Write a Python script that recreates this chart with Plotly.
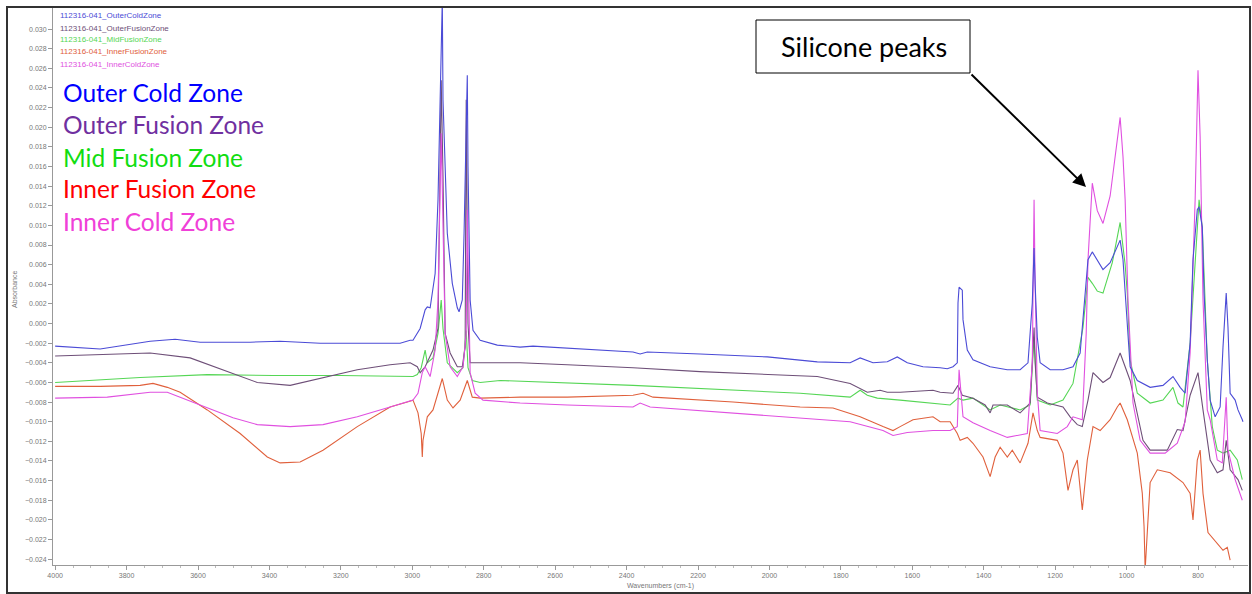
import plotly.graph_objects as go

# ---------------- data (wavenumber cm-1, absorbance) ----------------
outer_cold_wn = [4000, 3874, 3734, 3664, 3594, 3454, 3370, 3258, 3034, 3006, 2998, 2978, 2964, 2958, 2950,
                 2936, 2928, 2919, 2916, 2914, 2902, 2888, 2874, 2869, 2860, 2855, 2849, 2846, 2844, 2838,
                 2830, 2810, 2762, 2698, 2662, 2566, 2382, 2362, 2342, 2194, 2006, 1866, 1774, 1746, 1710,
                 1670, 1642, 1614, 1570, 1522, 1502, 1486, 1474, 1472, 1469, 1460, 1458, 1446, 1430, 1382,
                 1334, 1298, 1276, 1264, 1259, 1256, 1250, 1242, 1214, 1178, 1150, 1130, 1122, 1116, 1108,
                 1096, 1082, 1066, 1046, 1026, 1018, 1010, 998, 990, 970, 934, 898, 870, 850, 836, 822, 814,
                 802, 797, 788, 783, 774, 766, 752, 738, 730, 721, 716, 710, 696, 688, 676, 674]
outer_cold_ab = [-0.0023, -0.0026, -0.0018, -0.0016, -0.0019, -0.0019, -0.0018, -0.0020, -0.0020, -0.0017,
                 -0.0017, -0.0005, 0.0014, 0.0017, 0.0016, 0.0051, 0.0126, 0.0260, 0.0330, 0.0228, 0.0092,
                 0.0041, 0.0016, 0.0012, 0.0024, 0.0092, 0.0228, 0.0253, 0.0160, 0.0024, -0.0007, -0.0017,
                 -0.0022, -0.0024, -0.0023, -0.0025, -0.0029, -0.0031, -0.0029, -0.0031, -0.0034, -0.0039,
                 -0.0040, -0.0035, -0.0040, -0.0039, -0.0034, -0.0040, -0.0044, -0.0045, -0.0046, -0.0044,
                 -0.0040, 0.0021, 0.0037, 0.0034, 0.0004, -0.0027, -0.0037, -0.0044, -0.0047, -0.0047,
                 -0.0040, 0.0021, 0.0077, 0.0040, -0.0014, -0.0040, -0.0047, -0.0047, -0.0044, -0.0030,
                 0.0004, 0.0031, 0.0065, 0.0073, 0.0065, 0.0055, 0.0062, 0.0078, 0.0085, 0.0065, -0.0004,
                 -0.0044, -0.0058, -0.0065, -0.0063, -0.0054, -0.0065, -0.0071, -0.0020, 0.0065, 0.0116,
                 0.0119, 0.0098, 0.0031, -0.0037, -0.0078, -0.0095, -0.0085, -0.0024, 0.0031, -0.0004,
                 -0.0071, -0.0078, -0.0088, -0.0098, -0.0100]

outer_fusion_wn = [4000, 3734, 3622, 3530, 3434, 3342, 3250, 3154, 3062, 3006, 2986, 2978, 2964, 2942, 2928,
                   2919, 2914, 2908, 2894, 2874, 2860, 2852, 2849, 2844, 2838, 2818, 2698, 2566, 2382, 2194,
                   2006, 1866, 1774, 1746, 1726, 1690, 1670, 1634, 1542, 1522, 1486, 1472, 1460, 1430, 1396,
                   1382, 1374, 1334, 1312, 1298, 1270, 1264, 1259, 1256, 1250, 1222, 1178, 1158, 1138, 1124,
                   1108, 1094, 1066, 1046, 1018, 990, 954, 934, 886, 858, 842, 822, 800, 786, 766, 746, 730,
                   721, 710, 688, 676]
outer_fusion_ab = [-0.0033, -0.0030, -0.0035, -0.0047, -0.0060, -0.0063, -0.0055, -0.0047, -0.0042, -0.0040,
                   -0.0044, -0.0050, -0.0044, -0.0027, -0.0005, 0.0248, 0.0150, -0.0010, -0.0030, -0.0044,
                   -0.0044, -0.0024, 0.0228, 0.0000, -0.0040, -0.0040, -0.0040, -0.0042, -0.0045, -0.0049,
                   -0.0052, -0.0054, -0.0061, -0.0066, -0.0070, -0.0068, -0.0070, -0.0070, -0.0068, -0.0070,
                   -0.0071, -0.0063, -0.0073, -0.0076, -0.0083, -0.0091, -0.0083, -0.0083, -0.0088, -0.0091,
                   -0.0081, -0.0040, -0.0004, -0.0040, -0.0075, -0.0081, -0.0085, -0.0095, -0.0103, -0.0105,
                   -0.0078, -0.0050, -0.0060, -0.0055, -0.0030, -0.0058, -0.0119, -0.0129, -0.0129, -0.0108,
                   -0.0109, -0.0073, -0.0050, -0.0088, -0.0139, -0.0152, -0.0149, -0.0119, -0.0149, -0.0159,
                   -0.0170]

mid_fusion_wn = [4000, 3762, 3574, 3390, 3202, 3014, 2998, 2986, 2975, 2964, 2958, 2942, 2928, 2919, 2914,
                 2902, 2874, 2858, 2849, 2844, 2832, 2810, 2754, 2382, 2194, 1914, 1774, 1746, 1726, 1698,
                 1634, 1542, 1494, 1472, 1458, 1430, 1382, 1354, 1298, 1270, 1259, 1250, 1214, 1178, 1150,
                 1122, 1108, 1096, 1082, 1066, 1040, 1018, 1004, 998, 990, 970, 934, 898, 870, 856, 842,
                 822, 802, 797, 788, 774, 760, 746, 730, 710, 690, 676]
mid_fusion_ab = [-0.0060, -0.0055, -0.0052, -0.0053, -0.0053, -0.0054, -0.0054, -0.0052, -0.0045, -0.0027,
                 -0.0040, -0.0035, -0.0010, 0.0024, -0.0005, -0.0040, -0.0050, -0.0045, -0.0007, -0.0045,
                 -0.0058, -0.0060, -0.0058, -0.0063, -0.0066, -0.0071, -0.0075, -0.0068, -0.0073, -0.0076,
                 -0.0078, -0.0081, -0.0083, -0.0076, -0.0078, -0.0076, -0.0088, -0.0083, -0.0088, -0.0083,
                 -0.0014, -0.0078, -0.0083, -0.0078, -0.0061, -0.0004, 0.0047, 0.0041, 0.0033, 0.0031,
                 0.0062, 0.0103, 0.0060, 0.0031, -0.0037, -0.0071, -0.0081, -0.0078, -0.0065, -0.0081,
                 -0.0085, -0.0020, 0.0098, 0.0126, 0.0098, -0.0037, -0.0105, -0.0129, -0.0132, -0.0129,
                 -0.0139, -0.0159]

inner_fusion_wn = [4000, 3874, 3762, 3726, 3686, 3650, 3574, 3482, 3406, 3370, 3314, 3250, 3154, 3062, 3014,
                   2998, 2984, 2975, 2972, 2970, 2958, 2942, 2916, 2902, 2886, 2866, 2846, 2832, 2810, 2698,
                   2566, 2382, 2354, 2326, 2102, 1914, 1822, 1746, 1682, 1654, 1634, 1598, 1542, 1522, 1494,
                   1474, 1466, 1446, 1430, 1402, 1382, 1368, 1354, 1334, 1320, 1298, 1276, 1262, 1250, 1242,
                   1194, 1178, 1164, 1150, 1138, 1124, 1110, 1094, 1074, 1046, 1026, 1018, 998, 970, 956, 951,
                   948, 942, 934, 914, 878, 842, 822, 814, 802, 794, 786, 772, 746, 730, 718, 710]
inner_fusion_ab = [-0.0064, -0.0064, -0.0063, -0.0061, -0.0065, -0.0070, -0.0088, -0.0112, -0.0136, -0.0142,
                   -0.0141, -0.0129, -0.0105, -0.0085, -0.0080, -0.0078, -0.0091, -0.0112, -0.0136, -0.0119,
                   -0.0095, -0.0088, -0.0056, -0.0078, -0.0086, -0.0078, -0.0058, -0.0075, -0.0076, -0.0075,
                   -0.0075, -0.0073, -0.0071, -0.0075, -0.0080, -0.0085, -0.0086, -0.0095, -0.0105, -0.0109,
                   -0.0105, -0.0098, -0.0095, -0.0100, -0.0100, -0.0112, -0.0119, -0.0116, -0.0122, -0.0136,
                   -0.0156, -0.0136, -0.0126, -0.0136, -0.0129, -0.0142, -0.0122, -0.0091, -0.0109, -0.0116,
                   -0.0119, -0.0132, -0.0170, -0.0149, -0.0139, -0.0190, -0.0139, -0.0105, -0.0109, -0.0098,
                   -0.0085, -0.0081, -0.0098, -0.0132, -0.0173, -0.0207, -0.0251, -0.0207, -0.0162, -0.0149,
                   -0.0152, -0.0162, -0.0173, -0.0200, -0.0139, -0.0129, -0.0173, -0.0213, -0.0224, -0.0231,
                   -0.0228, -0.0241]

inner_cold_wn = [4000, 3854, 3734, 3686, 3650, 3574, 3502, 3434, 3342, 3250, 3154, 3062, 3014, 2998, 2984,
                 2972, 2964, 2950, 2936, 2928, 2919, 2908, 2894, 2874, 2858, 2849, 2846, 2838, 2824, 2802,
                 2698, 2566, 2382, 2362, 2334, 2102, 1914, 1774, 1682, 1654, 1614, 1542, 1494, 1474, 1469,
                 1466, 1458, 1430, 1382, 1334, 1278, 1264, 1259, 1256, 1250, 1242, 1194, 1166, 1150, 1124,
                 1113, 1108, 1096, 1082, 1066, 1046, 1026, 1018, 1010, 1004, 996, 982, 962, 934, 892, 858,
                 836, 822, 808, 800, 794, 786, 774, 766, 746, 732, 721, 716, 696, 676]
inner_cold_ab = [-0.0076, -0.0075, -0.0070, -0.0070, -0.0075, -0.0086, -0.0096, -0.0103, -0.0105, -0.0103,
                 -0.0095, -0.0085, -0.0080, -0.0078, -0.0071, -0.0050, -0.0044, -0.0054, -0.0027, 0.0024,
                 0.0194, -0.0010, -0.0044, -0.0054, -0.0044, -0.0010, 0.0116, -0.0050, -0.0071, -0.0078,
                 -0.0081, -0.0083, -0.0085, -0.0081, -0.0085, -0.0091, -0.0096, -0.0100, -0.0109, -0.0114,
                 -0.0111, -0.0109, -0.0109, -0.0105, -0.0047, -0.0060, -0.0095, -0.0101, -0.0109, -0.0116,
                 -0.0112, -0.0040, 0.0126, 0.0040, -0.0070, -0.0109, -0.0112, -0.0105, -0.0095, -0.0098,
                 -0.0010, 0.0065, 0.0143, 0.0115, 0.0102, 0.0130, 0.0185, 0.0210, 0.0170, 0.0126, 0.0024,
                 -0.0081, -0.0119, -0.0132, -0.0132, -0.0122, -0.0100, -0.0030, 0.0126, 0.0258, 0.0190,
                 0.0024, -0.0088, -0.0098, -0.0139, -0.0142, -0.0075, -0.0129, -0.0159, -0.0180]

series_names = ["Outer Cold Zone", "Outer Fusion Zone", "Mid Fusion Zone", "Inner Fusion Zone", "Inner Cold Zone"]
file_names = ["112316-041_OuterColdZone", "112316-041_OuterFusionZone", "112316-041_MidFusionZone",
              "112316-041_InnerFusionZone", "112316-041_InnerColdZone"]
line_colors = ["#4b4bd6", "#6e4f78", "#55d655", "#e0603c", "#e050e0"]
label_colors = ["#0000ff", "#7030a0", "#11dd11", "#ff0000", "#f040d8"]

x_ticks = [4000, 3800, 3600, 3400, 3200, 3000, 2800, 2600, 2400, 2200, 2000, 1800, 1600, 1400, 1200, 1000, 800]
y_ticks = [round(-0.024 + 0.002 * k, 3) for k in range(28)]

series = [(outer_cold_wn, outer_cold_ab), (outer_fusion_wn, outer_fusion_ab), (mid_fusion_wn, mid_fusion_ab),
          (inner_fusion_wn, inner_fusion_ab), (inner_cold_wn, inner_cold_ab)]

# ---------------- figure ----------------
W, H = 1252, 594
ML, MR, MT, MB = 53, 4, 8, 29
PW, PH = W - ML - MR, H - MT - MB


def px(xp):
    return (xp - ML) / PW


def py(yp):
    return (H - MB - yp) / PH


fig = go.Figure()
draw_order = [2, 1, 3, 4, 0]
for i in draw_order:
    wn, ab = series[i]
    fig.add_trace(go.Scatter(x=wn, y=ab, mode="lines", name=series_names[i],
                             line=dict(color=line_colors[i], width=1.1), showlegend=False))

annotations = []
# small file-name legend
for i, (name, yp) in enumerate(zip(file_names, [15, 28, 40, 52, 64])):
    annotations.append(dict(text=name, xref="paper", yref="paper", x=px(58), y=py(yp),
                            xanchor="left", yanchor="middle", showarrow=False,
                            font=dict(size=8, color=line_colors[i], family="Liberation Sans")))
# big zone labels
for i, (name, yp) in enumerate(zip(series_names, [92, 125, 157, 189, 221])):
    annotations.append(dict(text=name, xref="paper", yref="paper", x=px(61), y=py(yp),
                            xanchor="left", yanchor="middle", showarrow=False,
                            font=dict(size=24.5, color=label_colors[i], family="Lato")))
# silicone callout
annotations.append(dict(text="Silicone peaks", xref="paper", yref="paper", x=px(864), y=py(47),
                        xanchor="center", yanchor="middle", showarrow=False,
                        font=dict(size=27, color="black", family="Lato")))
annotations.append(dict(text="", xref="paper", yref="paper", x=px(1086), y=py(187),
                        ax=970 - 1086, ay=73 - 187, axref="pixel", ayref="pixel",
                        showarrow=True, arrowhead=2, arrowsize=1.3, arrowwidth=2, arrowcolor="black"))
# axis titles
annotations.append(dict(text="Absorbance", xref="paper", yref="paper", x=px(14), y=py(290),
                        textangle=-90, showarrow=False, xanchor="center", yanchor="middle",
                        font=dict(size=7, color="#777", family="Liberation Sans")))
annotations.append(dict(text="Wavenumbers (cm-1)", xref="paper", yref="paper", x=px(660), y=py(586),
                        showarrow=False, xanchor="center", yanchor="middle",
                        font=dict(size=7, color="#777", family="Liberation Sans")))

shapes = [
    dict(type="rect", xref="paper", yref="paper", x0=px(756), x1=px(970), y0=py(73), y1=py(20),
         line=dict(color="black", width=1), fillcolor="white", layer="below"),
    dict(type="rect", xref="paper", yref="paper", x0=px(7), x1=px(1250), y0=py(593), y1=py(7),
         line=dict(color="#333", width=2), layer="above"),
]

fig.update_layout(
    width=W, height=H, margin=dict(l=ML, r=MR, t=MT, b=MB, autoexpand=False),
    paper_bgcolor="white", plot_bgcolor="white",
    annotations=annotations, shapes=shapes,
    xaxis=dict(range=[4006, 660], tickvals=x_ticks, ticktext=[str(t) for t in x_ticks],
               automargin=False,
               showgrid=False, zeroline=False, showline=True, linecolor="#999", linewidth=1,
               ticks="outside", ticklen=4, tickcolor="#999",
               minor=dict(ticks="outside", ticklen=2, dtick=50, tickcolor="#bbb"),
               tickfont=dict(size=7, color="#777", family="Liberation Sans")),
    yaxis=dict(range=[-0.0246, 0.03215], tickvals=y_ticks, tickformat=".3f",
               automargin=False,
               showgrid=False, zeroline=False, showline=True, linecolor="#999", linewidth=1,
               ticks="outside", ticklen=4, tickcolor="#999",
               tickfont=dict(size=7, color="#777", family="Liberation Sans")),
)

fig.write_html("out.html", config={"displayModeBar": False},
               post_script="document.body.style.margin='0';document.body.style.padding='0';"
                           "document.body.style.overflow='hidden';")
